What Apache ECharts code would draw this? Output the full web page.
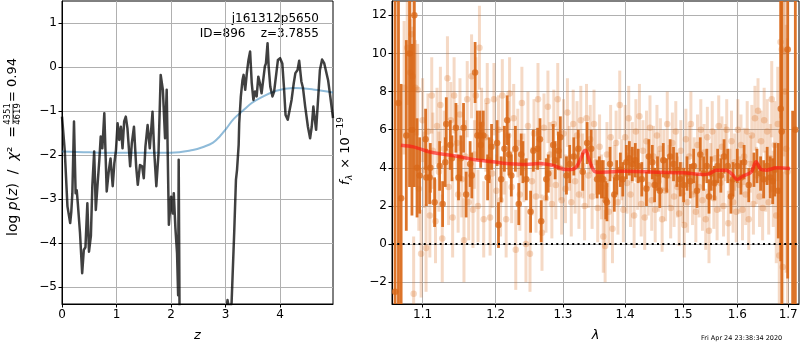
<!DOCTYPE html>
<html>
<head>
<meta charset="utf-8">
<script src="https://cdn.jsdelivr.net/npm/echarts@6/dist/echarts.min.js"></script>
<style>
  html, body { margin: 0; padding: 0; background: #fff; }
  #chart { width: 800px; height: 350px; }
</style>
</head>
<body>
<div id="chart"></div>
<script>
// ---- Redshift probability panel ----
const zTicks = [0, 1, 2, 3, 4];
const logpTicks = [-5, -4, -3, -2, -1, 0, 1];

// log p(z): [z, log p]
const pzCurve = [
  [0.00,-1.13],[0.05,-1.89],[0.10,-3.17],[0.15,-3.55],[0.17,-3.30],[0.19,-2.87],[0.22,-1.24],
  [0.25,-2.87],[0.27,-2.80],[0.29,-3.10],[0.33,-3.77],[0.37,-4.69],[0.40,-4.16],[0.43,-4.10],
  [0.465,-3.10],[0.495,-4.20],[0.53,-3.84],[0.556,-2.71],[0.59,-1.92],[0.62,-3.25],[0.65,-2.71],
  [0.685,-2.11],[0.71,-1.58],[0.74,-1.85],[0.776,-1.05],[0.82,-2.83],[0.86,-2.34],[0.89,-2.08],
  [0.93,-2.71],[0.96,-2.19],[0.99,-1.89],[1.02,-1.28],[1.05,-1.66],[1.08,-1.36],[1.11,-1.85],
  [1.14,-1.24],[1.17,-1.13],[1.20,-1.39],[1.25,-2.26],[1.28,-1.74],[1.32,-1.36],[1.36,-2.26],
  [1.39,-2.68],[1.43,-2.23],[1.47,-2.26],[1.50,-2.53],[1.53,-1.81],[1.57,-1.32],[1.61,-1.85],
  [1.66,-1.02],[1.69,-1.89],[1.73,-2.71],[1.77,-1.96],[1.81,-0.18],[1.85,-0.52],[1.89,-1.62],
  [1.92,-0.52],[1.96,-3.59],[2.00,-2.95],[2.03,-3.33],[2.05,-2.87],[2.08,-3.67],[2.11,-4.24],
  [2.13,-5.19],[2.14,-2.11],[2.16,-6.50],[2.25,-20],[2.95,-20],[3.02,-5.45],[3.035,-5.30],
  [3.05,-5.40],[3.08,-5.50],[3.11,-5.37],[3.16,-3.70],[3.19,-2.57],[3.21,-2.34],[3.24,-1.77],
  [3.25,-1.28],[3.28,-0.67],[3.31,-0.30],[3.33,-0.18],[3.36,-0.52],[3.39,-0.14],[3.42,0.16],
  [3.45,0.35],[3.48,-0.37],[3.51,-0.75],[3.54,-0.56],[3.57,-0.67],[3.60,-0.22],[3.63,-0.37],
  [3.66,-0.60],[3.69,-0.30],[3.72,0.01],[3.74,0.08],[3.77,0.54],[3.79,0.01],[3.82,-0.45],
  [3.86,-0.67],[3.89,-0.56],[3.93,-0.15],[3.96,0.16],[4.00,0.20],[4.04,0.08],[4.07,-0.45],
  [4.10,-1.09],[4.14,-1.20],[4.17,-1.20],[4.21,-0.75],[4.25,-0.37],[4.28,-0.14],[4.32,-0.07],
  [4.35,0.14],[4.39,-0.33],[4.42,-0.48],[4.46,-0.90],[4.51,-1.36],[4.55,-1.62],[4.58,-1.36],
  [4.61,-0.90],[4.63,-1.13],[4.66,-1.43],[4.70,-0.67],[4.73,-0.07],[4.77,0.17],[4.81,0.08],
  [4.84,0.05],[4.88,-0.30],[4.92,-0.67],[4.97,-1.16]
];

// scaled chi-square curve: [z, value]
const chi2Curve = [
  [0.00,-1.92],[0.50,-1.94],[1.00,-1.95],[1.50,-1.95],[2.00,-1.95],[2.40,-1.89],[2.59,-1.82],
  [2.77,-1.72],[2.90,-1.57],[3.02,-1.39],[3.15,-1.18],[3.33,-0.98],[3.48,-0.82],[3.63,-0.71],
  [3.93,-0.54],[4.24,-0.48],[4.60,-0.51],[4.97,-0.58]
];

// ---- Spectrum panel ----
const lamTicks = [1.1, 1.2, 1.3, 1.4, 1.5, 1.6, 1.7];
const fluxTicks = [-2, 0, 2, 4, 6, 8, 10, 12];

// primary spectrum points: [lambda, flux, error]
const darkPts = [
  [1.0645,-2.5,16],[1.0688,7.4,16],[1.0722,2.4,6],[1.0788,5.7,5],[1.0830,10.0,7],[1.0861,6.0,4.5],
  [1.0892,12.0,9],[1.0927,4.0,2.6],[1.0961,3.6,2.0],[1.1039,5.5,1.6],[1.1049,3.5,1.5],[1.1092,3.5,1.4],
  [1.1101,4.0,1.3],[1.1158,2.2,1.3],[1.1225,4.1,1.3],[1.1265,2.1,1.2],[1.1301,4.3,1.3],[1.1314,6.3,1.4],
  [1.1368,5.2,1.3],[1.1391,4.5,1.2],[1.1445,6.1,1.3],[1.1480,3.5,1.2],[1.1513,4.5,1.2],[1.1549,6.1,1.3],
  [1.1585,2.6,1.2],[1.1640,4.2,1.2],[1.1663,3.6,1.2],[1.1709,9.0,1.6],[1.1741,5.7,1.3],[1.1778,5.7,1.3],
  [1.1787,5.2,1.2],[1.1824,5.7,1.3],[1.1885,3.5,1.2],[1.1907,4.4,1.2],[1.1941,5.1,1.2],[1.2020,5.3,1.2],
  [1.2040,1.0,1.2],[1.2078,3.4,1.2],[1.2125,5.0,1.2],[1.2165,6.5,1.3],[1.2190,4.7,1.1],[1.2225,3.6,1.1],
  [1.2285,5.0,1.2],[1.2334,2.1,1.1],[1.2370,4.7,1.1],[1.2395,4.3,1.1],[1.2445,3.4,1.1],[1.2509,1.7,1.1],
  [1.2550,4.9,1.1],[1.2614,5.0,1.1],[1.2650,5.5,1.1],[1.2668,1.2,1.1],[1.2745,3.4,1.1],[1.2775,3.7,1.0],
  [1.2850,5.2,1.1],[1.2880,4.4,1.0],[1.2930,4.9,1.0],[1.2960,5.6,1.1],[1.3055,3.6,1.0],[1.3105,4.2,1.0],
  [1.3170,4.6,1.0],[1.3240,5.0,1.0],[1.3310,3.8,1.0],[1.3380,5.3,1.1],[1.3445,5.0,1.0],[1.3540,3.4,1.0],
  [1.3575,3.6,1.0],[1.3610,3.4,1.0],[1.3640,3.4,1.0],[1.3680,2.3,1.0],[1.3700,2.2,1.0],[1.3750,4.2,0.9],
  [1.3820,2.6,0.9],[1.3860,3.5,0.9],[1.3920,3.9,0.9],[1.3960,3.4,0.9],[1.4020,4.3,0.9],[1.4070,4.5,0.9],
  [1.4120,4.2,0.9],[1.4170,4.4,0.9],[1.4220,4.1,0.9],[1.4280,3.4,0.9],[1.4360,2.9,0.9],[1.4400,4.6,0.9],
  [1.4460,4.3,0.9],[1.4500,3.1,0.9],[1.4550,3.7,0.9],[1.4590,2.8,0.9],[1.4650,4.4,0.9],[1.4710,3.6,0.9],
  [1.4770,4.6,0.9],[1.4830,4.2,0.9],[1.4890,3.9,0.9],[1.4950,3.4,0.9],[1.5010,3.1,0.9],[1.5070,3.7,0.9],
  [1.5130,3.3,0.9],[1.5190,4.1,0.9],[1.5250,2.8,0.9],[1.5310,4.7,0.9],[1.5370,3.7,0.9],[1.5430,4.1,0.9],
  [1.5470,2.5,0.9],[1.5510,3.7,0.9],[1.5570,3.2,0.9],[1.5630,4.1,0.9],[1.5690,3.6,0.9],[1.5750,4.6,0.9],
  [1.5820,4.1,0.9],[1.5880,2.5,0.9],[1.5920,3.4,0.9],[1.6000,4.1,0.9],[1.6070,3.5,0.9],[1.6130,4.3,0.9],
  [1.6220,3.1,0.9],[1.6320,3.9,0.9],[1.6380,4.1,0.9],[1.6450,3.7,0.9],[1.6510,3.4,1.0],[1.6580,4.1,1.0],
  [1.6640,3.5,1.1],[1.6690,3.3,1.2],[1.6730,3.9,1.4],[1.6800,2.8,2.5],[1.6850,7.1,8],[1.6870,5.9,10],
  [1.6990,10.2,12],[1.7090,-12,19],[1.7145,6,30]
];

// secondary spectrum points: [lambda, flux, error]
const lightPts = [
  [1.0760,8.2,3.5],[1.0800,10.3,3.0],[1.0840,9.0,2.8],[1.0855,11.0,3.0],[1.0870,8.8,2.6],[1.0883,-2.6,3.0],
  [1.0905,8.2,2.5],[1.0935,8.1,2.4],[1.0950,2.9,2.2],[1.0980,-0.5,2.3],[1.1000,6.5,2.2],[1.1020,3.9,2.0],
  [1.1045,-0.2,2.3],[1.1070,5.9,2.0],[1.1095,1.5,2.2],[1.1120,7.8,2.0],[1.1135,4.9,2.0],[1.1170,1.2,2.2],
  [1.1190,6.2,2.0],[1.1215,3.8,2.1],[1.1235,7.3,2.0],[1.1260,0.3,2.3],[1.1285,5.0,2.0],[1.1330,8.7,2.2],
  [1.1345,3.0,2.0],[1.1375,6.5,2.0],[1.1400,1.4,2.1],[1.1420,7.8,2.0],[1.1460,5.3,2.0],[1.1475,2.6,2.0],
  [1.1500,6.8,1.9],[1.1525,3.4,2.0],[1.1555,0.2,2.2],[1.1575,4.6,1.9],[1.1600,7.6,2.0],[1.1620,2.2,2.0],
  [1.1660,8.8,2.2],[1.1680,1.8,2.0],[1.1700,4.7,1.8],[1.1720,7.8,2.0],[1.1750,2.0,1.9],[1.1770,10.3,2.2],
  [1.1800,6.3,1.9],[1.1830,1.3,2.0],[1.1860,5.6,1.8],[1.1880,7.5,2.0],[1.1920,1.4,2.0],[1.1950,3.7,1.8],
  [1.1975,7.6,1.9],[1.2010,2.8,1.9],[1.2040,6.0,1.8],[1.2070,2.3,1.9],[1.2095,7.8,1.9],[1.2120,4.4,1.8],
  [1.2150,1.3,2.0],[1.2180,5.7,1.8],[1.2200,7.9,1.9],[1.2230,3.0,1.9],[1.2260,6.6,1.8],[1.2290,-0.3,2.1],
  [1.2320,5.3,1.8],[1.2350,2.6,1.9],[1.2380,7.4,1.9],[1.2410,4.0,1.8],[1.2440,0.0,2.0],[1.2470,6.2,1.8],
  [1.2500,-0.5,2.0],[1.2530,3.3,1.8],[1.2560,5.8,1.8],[1.2590,2.5,1.9],[1.2620,7.6,1.9],[1.2650,4.2,1.8],
  [1.2680,0.6,2.0],[1.2710,6.1,1.8],[1.2740,2.4,1.8],[1.2770,7.2,1.9],[1.2800,4.7,1.7],[1.2830,2.1,1.8],
  [1.2860,6.3,1.8],[1.2890,3.1,1.8],[1.2920,7.6,1.9],[1.2950,4.0,1.7],[1.2980,2.3,1.8],[1.3010,5.8,1.8],
  [1.3040,2.9,1.8],[1.3070,6.9,1.8],[1.3100,4.5,1.7],[1.3130,2.2,1.8],[1.3160,6.3,1.8],[1.3190,3.3,1.7],
  [1.3220,5.7,1.8],[1.3250,2.6,1.8],[1.3280,6.5,1.8],[1.3310,4.1,1.7],[1.3340,2.0,1.8],[1.3370,6.6,1.8],
  [1.3400,3.6,1.7],[1.3430,5.5,1.8],[1.3460,2.5,1.7],[1.3490,6.3,1.8],[1.3520,4.3,1.7],[1.3550,1.9,1.8],
  [1.3580,5.1,1.7],[1.3610,3.0,1.7],[1.3640,0.4,1.9],[1.3670,-0.1,1.9],[1.3700,4.7,1.7],[1.3730,1.7,1.7],
  [1.3760,5.6,1.7],[1.3790,0.8,1.8],[1.3820,3.6,1.6],[1.3850,5.3,1.7],[1.3880,2.2,1.7],[1.3910,7.3,1.8],
  [1.3940,3.9,1.6],[1.3970,1.8,1.7],[1.4000,5.6,1.7],[1.4030,3.2,1.6],[1.4060,6.6,1.7],[1.4090,2.6,1.7],
  [1.4120,4.8,1.6],[1.4150,1.5,1.7],[1.4180,5.9,1.7],[1.4210,3.4,1.6],[1.4240,6.7,1.7],[1.4270,2.1,1.7],
  [1.4300,4.9,1.6],[1.4330,1.4,1.7],[1.4360,5.4,1.6],[1.4390,3.1,1.6],[1.4420,6.1,1.7],[1.4450,2.3,1.6],
  [1.4480,4.6,1.6],[1.4510,1.8,1.7],[1.4540,5.7,1.6],[1.4570,3.3,1.6],[1.4600,5.0,1.6],[1.4630,1.3,1.7],
  [1.4660,4.4,1.6],[1.4690,2.8,1.6],[1.4720,6.3,1.7],[1.4750,3.6,1.6],[1.4780,1.9,1.6],[1.4810,5.3,1.6],
  [1.4840,2.5,1.6],[1.4870,5.9,1.6],[1.4900,3.0,1.6],[1.4930,1.6,1.7],[1.4960,4.9,1.6],[1.4990,2.7,1.6],
  [1.5020,1.0,1.7],[1.5050,5.5,1.6],[1.5080,2.2,1.6],[1.5110,4.6,1.6],[1.5140,6.3,1.7],[1.5170,2.6,1.6],
  [1.5200,4.1,1.5],[1.5230,1.7,1.6],[1.5260,5.2,1.6],[1.5290,3.0,1.6],[1.5320,6.0,1.6],[1.5350,2.3,1.6],
  [1.5380,4.8,1.5],[1.5410,1.3,1.6],[1.5440,5.6,1.6],[1.5470,0.7,1.7],[1.5500,3.8,1.5],[1.5530,5.9,1.6],
  [1.5560,2.4,1.6],[1.5590,4.5,1.5],[1.5620,1.8,1.6],[1.5650,6.2,1.6],[1.5680,3.2,1.5],[1.5710,5.1,1.6],
  [1.5740,2.0,1.6],[1.5770,4.8,1.5],[1.5800,6.0,1.6],[1.5830,1.1,1.7],[1.5860,3.5,1.5],[1.5890,5.4,1.6],
  [1.5920,2.2,1.6],[1.5950,4.3,1.5],[1.5980,1.7,1.6],[1.6010,6.0,1.6],[1.6040,3.1,1.5],[1.6070,5.2,1.6],
  [1.6100,1.8,1.6],[1.6130,4.6,1.5],[1.6160,2.6,1.6],[1.6190,5.9,1.6],[1.6220,1.3,1.6],[1.6250,4.2,1.5],
  [1.6280,5.7,1.6],[1.6310,2.1,1.6],[1.6340,6.6,1.7],[1.6370,3.6,1.5],[1.6400,7.0,1.7],[1.6430,2.5,1.6],
  [1.6460,5.4,1.6],[1.6490,1.9,1.7],[1.6520,6.5,1.7],[1.6550,3.3,1.6],[1.6580,5.9,1.7],[1.6610,2.2,1.7],
  [1.6640,4.5,1.8],[1.6670,7.6,2.0],[1.6700,2.9,2.0],[1.6730,5.2,2.3],[1.6760,1.5,2.5],[1.6790,6.3,3.0],
  [1.6820,-0.6,3.5],[1.6845,10.6,4.0],[1.6870,10.2,4.5],[1.6890,-1.2,5.0],[1.6910,10.1,5.5],[1.6935,8.0,6.0],
  [1.6960,5.0,6.5],[1.6985,3.8,7.0]
];

// template model: [lambda, flux]
const modelLine = [
  [1.0720,5.19],[1.0880,5.10],[1.1058,4.87],[1.1144,4.79],[1.1300,4.70],[1.1459,4.61],[1.1685,4.44],
  [1.1963,4.32],[1.2151,4.23],[1.2300,4.20],[1.2443,4.18],[1.2636,4.23],[1.2839,4.14],[1.3043,3.91],
  [1.3172,3.95],[1.3250,4.27],[1.3330,4.87],[1.3357,4.92],[1.3411,4.44],[1.3491,3.84],[1.3571,3.77],
  [1.4000,3.82],[1.4564,3.77],[1.5000,3.74],[1.5359,3.65],[1.5480,3.70],[1.5603,3.88],[1.5784,3.88],
  [1.5907,3.65],[1.6000,3.38],[1.6104,3.56],[1.6264,3.77],[1.6362,4.32],[1.6461,3.91],[1.6561,3.88],
  [1.6763,4.00],[1.7039,3.97]
];

const zeroLine = [[1.0606, 0], [1.722, 0]];

// ---- drawing ----
const FONT = 'DejaVu Sans';
const lg = Math.log10;
const fmtMinus = v => String(v).replace('-', '\u2212');
const ORANGE = '217,104,24';

const chart = echarts.init(document.getElementById('chart'), null, { renderer: 'canvas' });

function axisCommon(ticks, formatter) {
  return {
    axisLine: { show: true, onZero: false, lineStyle: { color: '#000', width: 1 } },
    axisTick: { show: true, inside: false, length: 3.5, customValues: ticks, lineStyle: { color: '#000', width: 1 } },
    axisLabel: { customValues: ticks, formatter, color: '#000', fontSize: 12, fontFamily: FONT, margin: 5 },
    splitLine: { show: true, customValues: ticks, lineStyle: { color: '#b0b0b0', width: 1 } }
  };
}

function errorBars(pts, stroke, width, z) {
  return {
    type: 'custom', xAxisIndex: 1, yAxisIndex: 1, z, silent: true, clip: true,
    data: pts.map(p => [lg(p[0]), p[1], p[2]]),
    encode: { x: 0, y: 1 },
    renderItem: (params, api) => {
      const x = api.value(0), y = api.value(1), e = api.value(2);
      const a = api.coord([x, y - e]), b = api.coord([x, y + e]);
      return { type: 'line', shape: { x1: a[0], y1: a[1], x2: b[0], y2: b[1] },
               style: { stroke, lineWidth: width } };
    }
  };
}

function markers(pts, color, z) {
  return {
    type: 'scatter', xAxisIndex: 1, yAxisIndex: 1, z, silent: true, clip: true,
    symbol: 'circle', symbolSize: 6.5,
    data: pts.map(p => [lg(p[0]), p[1]]),
    itemStyle: { color, borderWidth: 0 }
  };
}

const option = {
  animation: false,
  textStyle: { fontFamily: FONT },
  grid: [
    { left: 62, top: 1, width: 271, height: 303, show: true, borderColor: '#000', borderWidth: 1,
      containLabel: false, outerBoundsMode: 'none' },
    { left: 392, top: 1, width: 407, height: 303, show: true, borderColor: '#000', borderWidth: 1,
      containLabel: false, outerBoundsMode: 'none' }
  ],
  xAxis: [
    Object.assign({ type: 'value', gridIndex: 0, min: 0, max: 4.97,
      name: 'z', nameLocation: 'middle', nameGap: 25,
      nameTextStyle: { fontSize: 13, fontStyle: 'italic', color: '#000', fontFamily: FONT } },
      axisCommon(zTicks, v => String(v))),
    Object.assign({ type: 'value', gridIndex: 1, min: lg(1.0606), max: lg(1.722),
      name: 'λ', nameLocation: 'middle', nameGap: 25,
      nameTextStyle: { fontSize: 13, fontStyle: 'italic', color: '#000', fontFamily: FONT } },
      axisCommon(lamTicks.map(lg), v => Math.pow(10, v).toFixed(1)))
  ],
  yAxis: [
    Object.assign({ type: 'value', gridIndex: 0, min: -5.39, max: 1.5 },
      axisCommon(logpTicks, v => fmtMinus(v))),
    Object.assign({ type: 'value', gridIndex: 1, min: -3.14, max: 12.75 },
      axisCommon(fluxTicks, v => fmtMinus(v)))
  ],
  series: [
    { type: 'line', xAxisIndex: 0, yAxisIndex: 0, data: chi2Curve, smooth: 0.4, showSymbol: false,
      clip: true, z: 3, lineStyle: { color: 'rgba(31,119,180,0.5)', width: 2 } },
    { type: 'line', xAxisIndex: 0, yAxisIndex: 0, data: pzCurve, showSymbol: false,
      clip: true, z: 4, lineStyle: { color: 'rgba(0,0,0,0.75)', width: 2.5, join: 'round' } },
    errorBars(lightPts, `rgba(${ORANGE},0.25)`, 3, 3),
    markers(lightPts, `rgba(${ORANGE},0.32)`, 4),
    errorBars(darkPts, `rgba(${ORANGE},0.92)`, 2.8, 5),
    markers(darkPts, `rgba(${ORANGE},0.95)`, 6),
    { type: 'line', xAxisIndex: 1, yAxisIndex: 1, data: zeroLine.map(p => [lg(p[0]), p[1]]),
      showSymbol: false, z: 7, lineStyle: { color: '#000', width: 2, type: [2, 3.3] } },
    { type: 'line', xAxisIndex: 1, yAxisIndex: 1, data: modelLine.map(p => [lg(p[0]), p[1]]),
      smooth: 0.3, showSymbol: false, clip: true, z: 8,
      lineStyle: { color: 'rgba(255,20,20,0.62)', width: 3.5 } }
  ],
  graphic: [
    { type: 'text', right: 800 - 319, top: 13,
      style: { text: 'j161312p5650', fontSize: 12, fontFamily: FONT, fill: '#000', align: 'right' } },
    { type: 'text', right: 800 - 319, top: 28,
      style: { text: 'ID=896    z=3.7855', fontSize: 12, fontFamily: FONT, fill: '#000', align: 'right' } },
    { type: 'text', left: 701, top: 335,
      style: { text: 'Fri Apr 24 23:38:34 2020', fontSize: 6.5, fontFamily: FONT, fill: '#000' } },
    // y label of the redshift panel, with stacked fraction
    { type: 'group', x: 13, y: 153, rotation: Math.PI / 2, children: [
      { type: 'text', x: 27, y: 0, style: {
          text: '{n|log }{i|p}{n|(}{i|z}{n|)  /  }{i|χ}{n|²  =}',
          verticalAlign: 'middle', align: 'right',
          rich: { n: { fontSize: 14, fontFamily: FONT, fill: '#000' },
                  i: { fontSize: 14, fontFamily: FONT, fontStyle: 'italic', fill: '#000' } } } },
      { type: 'text', x: 39, y: -5, style: { text: '4351', fontSize: 8.5, fontFamily: FONT, fill: '#000',
          align: 'center', verticalAlign: 'middle' } },
      { type: 'text', x: 39, y: 5, style: { text: '4619', fontSize: 8.5, fontFamily: FONT, fill: '#000',
          align: 'center', verticalAlign: 'middle' } },
      { type: 'line', shape: { x1: 29, y1: 0, x2: 49, y2: 0 }, style: { stroke: '#000', lineWidth: 0.8 } },
      { type: 'text', x: 51, y: 0, style: { text: '= 0.94', fontSize: 13, fontFamily: FONT, fill: '#000',
          align: 'left', verticalAlign: 'middle' } }
    ] },
    // y label of the spectrum panel
    { type: 'group', x: 346, y: 152, rotation: Math.PI / 2, children: [
      { type: 'text', x: -33, y: 0, style: { text: 'f', fontSize: 13, fontStyle: 'italic', fontFamily: FONT,
          fill: '#000', align: 'left', verticalAlign: 'middle' } },
      { type: 'text', x: -28, y: 4, style: { text: 'λ', fontSize: 9, fontStyle: 'italic', fontFamily: FONT,
          fill: '#000', align: 'left', verticalAlign: 'middle' } },
      { type: 'text', x: -21, y: 0, style: { text: ' × 10', fontSize: 13, fontFamily: FONT,
          fill: '#000', align: 'left', verticalAlign: 'middle' } },
      { type: 'text', x: 16, y: -5, style: { text: '\u221219', fontSize: 9, fontFamily: FONT,
          fill: '#000', align: 'left', verticalAlign: 'middle' } }
    ] }
  ]
};

chart.setOption(option);
</script>
</body>
</html>
